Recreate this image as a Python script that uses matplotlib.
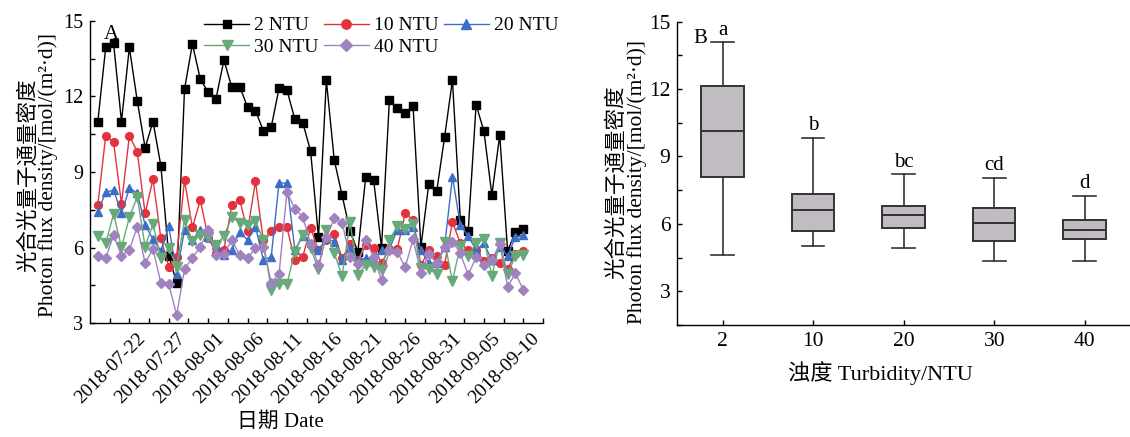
import numpy as np
import pandas as pd
import matplotlib
matplotlib.use('Agg')
import matplotlib.pyplot as plt
import matplotlib.dates as mdates

plt.rcParams['font.family'] = ['Liberation Serif', 'Noto Sans CJK SC']
plt.rcParams['font.size'] = 14
plt.rcParams['axes.linewidth'] = 1.0

# ── data: daily photon flux density per turbidity level ───────────────────────
dates = pd.date_range('2018-07-15 12:00', periods=55, freq='D')

ntu2 = [11.0, 13.94, 14.1, 11.0, 13.94, 11.83, 9.96, 11.0, 9.25, 5.68,
        4.61, 12.28, 14.08, 12.69, 12.16, 11.91, 13.44, 12.36, 12.39, 11.57,
        11.43, 10.64, 10.77, 12.33, 12.25, 11.09, 10.96, 9.83, 6.41, 12.64,
        9.48, 8.07, 6.67, 5.83, 8.82, 8.68, 6.0, 11.86, 11.54, 11.33,
        11.62, 6.04, 8.54, 8.23, 10.38, 12.65, 7.1, 6.67, 11.67, 10.61,
        8.09, 10.46, 5.86, 6.64, 6.73]
ntu10 = [7.69, 10.43, 10.19, 7.73, 10.43, 9.81, 7.36, 8.71, 6.37, 5.25,
         5.64, 8.68, 6.8, 7.89, 6.4, 5.8, 5.9, 7.69, 7.9, 6.65,
         8.63, 6.3, 6.66, 6.83, 6.8, 5.5, 5.63, 6.78, 5.9, 6.3,
         6.55, 5.58, 6.13, 5.5, 6.1, 6.0, 5.4, 5.94, 5.94, 7.36,
         7.1, 5.3, 5.91, 5.68, 5.32, 7.03, 6.17, 5.9, 5.9, 5.48,
         5.58, 5.38, 5.15, 5.76, 5.86]
ntu20 = [7.43, 8.19, 8.29, 7.36, 8.35, 8.18, 6.9, 6.33, 5.88, 6.86,
         4.96, 6.7, 6.3, 6.7, 6.43, 6.11, 5.71, 5.91, 6.63, 6.3,
         6.83, 5.51, 5.64, 8.58, 8.55, 5.91, 6.46, 6.2, 5.91, 6.37,
         6.24, 5.51, 5.97, 5.51, 5.58, 5.5, 5.9, 5.94, 6.7, 6.7,
         6.83, 5.91, 5.38, 5.4, 6.04, 8.81, 6.9, 6.46, 5.91, 6.17,
         5.5, 6.04, 5.67, 6.43, 6.5]
ntu30 = [6.46, 6.17, 7.34, 6.01, 7.2, 8.02, 6.04, 6.93, 5.6, 5.97,
         5.25, 7.1, 6.26, 6.5, 6.43, 6.1, 6.46, 7.2, 6.99, 6.9,
         7.07, 6.3, 4.32, 4.56, 4.56, 5.84, 6.5, 5.97, 5.14, 6.7,
         5.78, 4.88, 7.03, 4.92, 5.31, 5.25, 5.11, 6.3, 6.86, 6.73,
         6.94, 5.18, 5.14, 4.96, 6.24, 4.68, 6.08, 5.67, 6.18, 6.33,
         4.88, 6.2, 4.96, 5.67, 5.71]
ntu40 = [5.68, 5.58, 6.5, 5.68, 5.91, 6.83, 5.38, 5.95, 4.59, 4.56,
         3.33, 5.14, 5.6, 6.03, 6.7, 5.71, 5.75, 6.3, 5.71, 5.58,
         5.97, 6.03, 4.61, 4.96, 8.22, 7.53, 7.23, 6.14, 5.32, 6.41,
         7.16, 6.99, 5.62, 5.35, 6.3, 5.62, 4.72, 5.91, 5.84, 5.22,
         6.33, 5.01, 5.75, 5.38, 6.01, 6.24, 5.78, 4.92, 5.62, 5.31,
         5.5, 6.15, 4.45, 4.98, 4.32]

series_labels = ['2 NTU', '10 NTU', '20 NTU', '30 NTU', '40 NTU']
series_colors = ['#000000', '#e3323c', '#3c6ec8', '#65aa78', '#a082be']
series_markers = ['s', 'o', '^', 'v', 'D']
series_msize = [5.2, 5.6, 5.6, 6.6, 5.0]

# ── box plot summary (panel B) ────────────────────────────────────────────────
turbidity = ['2', '10', '20', '30', '40']
box_whislo = [4.6, 5.0, 4.93, 4.35, 4.33]
box_q1 = [8.09, 5.67, 5.8, 5.24, 5.33]
box_med = [10.13, 6.64, 6.41, 6.04, 5.73]
box_q3 = [12.13, 7.35, 6.78, 6.71, 6.18]
box_whishi = [14.08, 9.83, 8.2, 8.05, 7.25]
sig_letters = ['a', 'b', 'bc', 'cd', 'd']

ylab = '光合光量子通量密度\nPhoton flux density/[mol/(m²·d)]'

fig = plt.figure(figsize=(11.3, 4.37), dpi=100)
fig.patch.set_facecolor('white')


def style_axis(ax, tick_fs):
    ax.spines['top'].set_visible(False)
    ax.spines['right'].set_visible(False)
    ax.tick_params(which='both', direction='in', length=3.5, width=1.0,
                   top=False, right=False, pad=5)
    ax.tick_params(axis='y', labelsize=tick_fs)
    ax.set_yticks([3, 6, 9, 12, 15])
    ax.set_yticks(np.arange(1.5, 15.1, 1.5), minor=True)


# Panel A — time series
ax1 = fig.add_axes([0.0796, 0.2602, 0.401, 0.6924])
lines = []
for vals, lab, c, m, ms in zip([ntu2, ntu10, ntu20, ntu30, ntu40], series_labels,
                               series_colors, series_markers, series_msize):
    ln, = ax1.plot(dates, vals, color=c, marker=m, markersize=ms, lw=1.0,
                   markeredgecolor=c, label=lab)
    lines.append(ln)
style_axis(ax1, 14.5)
ax1.set_ylim(3, 15)
ax1.set_xlim(pd.Timestamp('2018-07-14 12:00'), pd.Timestamp('2018-09-10'))
ax1.set_xticks(pd.date_range('2018-07-22', '2018-09-10', freq='5D'))
ax1.set_xticks(pd.date_range('2018-07-17', '2018-09-10', freq='60h'), minor=True)
ax1.xaxis.set_major_formatter(mdates.DateFormatter('%Y-%m-%d'))
plt.setp(ax1.get_xticklabels(), rotation=45, ha='right')
ax1.set_xlabel('日期 Date', fontsize=15)
ax1.xaxis.set_label_coords(0.42, -0.295)
ax1.set_ylabel(ylab, linespacing=0.95, fontsize=15.5)
ax1.yaxis.set_label_coords(-0.07, 0.49)
ax1.text(0.03, 0.985, 'A', transform=ax1.transAxes, va='top', ha='left',
         fontsize=15)

order = [0, 3, 1, 4, 2]
fig.legend([lines[i] for i in order], [series_labels[i] for i in order],
           loc='upper left', bbox_to_anchor=(0.179, 0.966), ncol=3,
           frameon=False, numpoints=1, handlelength=2.3, handletextpad=0.25,
           columnspacing=0.3, labelspacing=0.2, borderpad=0.1,
           borderaxespad=0, fontsize=14, markerscale=1.2)

# Panel B — box plot
ax2 = fig.add_axes([0.5994, 0.2563, 0.4006, 0.6941])
stats = [dict(whislo=lo, q1=a, med=m, q3=b, whishi=hi, label=t)
         for lo, a, m, b, hi, t in zip(box_whislo, box_q1, box_med, box_q3,
                                       box_whishi, turbidity)]
pos = np.arange(1, len(stats) + 1)
ax2.bxp(stats, positions=pos, widths=0.47, patch_artist=True, showfliers=False,
        boxprops=dict(facecolor='#c1bcc1', edgecolor='#333333', linewidth=1.4),
        medianprops=dict(color='#333333', linewidth=1.4),
        whiskerprops=dict(color='#333333', linewidth=1.2),
        capprops=dict(color='#333333', linewidth=1.2), capwidths=0.25)
for p, hi, s in zip(pos, box_whishi, sig_letters):
    ax2.text(p, hi + 0.12, s, ha='center', va='bottom', fontsize=15)
style_axis(ax2, 15.5)
ax2.set_ylim(1.5, 15)
ax2.set_xlim(0.5, 5.5)
ax2.set_xticks(pos)
ax2.set_xticklabels(turbidity, fontsize=15.5)
ax2.set_xlabel('浊度 Turbidity/NTU', fontsize=16)
ax2.xaxis.set_label_coords(0.448, -0.12)
ax2.set_ylabel(ylab, linespacing=0.95, fontsize=15.5)
ax2.yaxis.set_label_coords(-0.068, 0.47)
ax2.text(0.035, 0.975, 'B', transform=ax2.transAxes, va='top', ha='left',
         fontsize=15)

fig.savefig('out.png', dpi=100)
plt.close(fig)
